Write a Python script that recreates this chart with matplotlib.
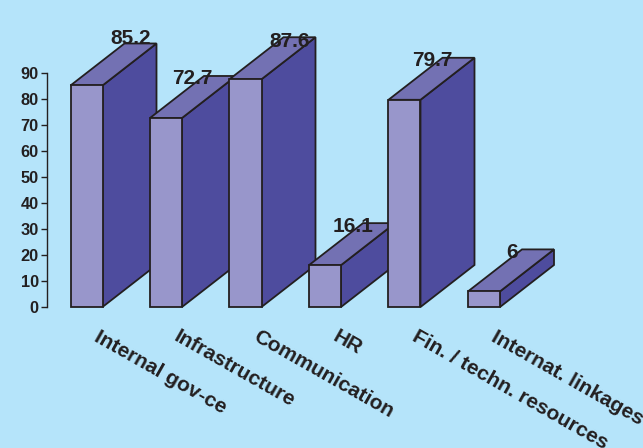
import matplotlib
matplotlib.use("Agg")
import matplotlib.pyplot as plt
from matplotlib.patches import Polygon

categories = ["Internal gov-ce", "Infrastructure", "Communication", "HR",
              "Fin. / techn. resources", "Internat. linkages"]
values = [85.2, 72.7, 87.6, 16.1, 79.7, 6]
value_labels = ["85.2", "72.7", "87.6", "16.1", "79.7", "6"]
y_ticks = [0, 10, 20, 30, 40, 50, 60, 70, 80, 90]

BG = "#B5E4FA"
FRONT = "#9896CB"
TOP = "#7371B3"
SIDE = "#4E4C9E"
INK = "#231F20"
W, H = 643, 448

plt.rcParams["font.family"] = ["Liberation Sans", "DejaVu Sans"]
plt.rcParams["font.weight"] = "bold"

fig = plt.figure(figsize=(W / 100, H / 100), dpi=100, facecolor=BG)
ax = fig.add_axes([0, 0, 1, 1], facecolor=BG)

# One category step is 79.5 px, one value unit is 2.6 px; the origin sits at px (70.5, 307).
step_px, unit_px = 79.5, 2.6
ax.set_xlim(-70.5 / step_px, (W - 70.5) / step_px)
ax.set_ylim(-(H - 307) / unit_px, 307 / unit_px)

bar_w = 32 / step_px
depth_x = 54 / step_px
depth_y = 42 / unit_px

# Left-to-right order lets each front face overlap the previous bar's side face.
for i, v in enumerate(values):
    x0, x1 = i, i + bar_w
    style = dict(edgecolor=INK, linewidth=1.3, joinstyle="miter")
    ax.add_patch(Polygon([(x1, 0), (x1 + depth_x, depth_y), (x1 + depth_x, v + depth_y), (x1, v)],
                         facecolor=SIDE, **style))
    ax.add_patch(Polygon([(x0, v), (x1, v), (x1 + depth_x, v + depth_y), (x0 + depth_x, v + depth_y)],
                         facecolor=TOP, **style))
    ax.add_patch(Polygon([(x0, 0), (x1, 0), (x1, v), (x0, v)], facecolor=FRONT, **style))

# Two labels sit further right so they clear the neighbouring faces.
label_nudges = [(12, 5), (-1, -1), (12, -2), (0, -1), (0, -1), (0, -1)]
for i, (v, lab, nudge) in enumerate(zip(values, value_labels, label_nudges)):
    ax.annotate(lab, xy=(i + (bar_w + depth_x) / 2 + 0.01, v + depth_y - 0.6), xytext=nudge,
                textcoords="offset points", ha="center", va="center",
                fontsize=15, color=INK, zorder=5, annotation_clip=False)

# Category names run downhill, starting under each bar.
for i, name in enumerate(categories):
    ax.annotate(name, xy=(i, 0), xytext=(18, -20.5), textcoords="offset points",
                rotation=-29.6, rotation_mode="anchor", ha="left", va="center",
                fontsize=15, color=INK, annotation_clip=False)

for s in ["top", "right", "bottom"]:
    ax.spines[s].set_visible(False)
ax.spines["left"].set_position(("data", (47 - 70.5) / step_px))
ax.spines["left"].set_bounds(0, 90)
ax.spines["left"].set_color(INK)
ax.spines["left"].set_linewidth(1.0)
ax.set_xticks([])
ax.set_yticks(y_ticks)
ax.tick_params(axis="y", length=4.5, width=1.0, color=INK, labelcolor=INK, labelsize=11.8, pad=1.5)

fig.savefig("out.png", dpi=100, facecolor=BG)
